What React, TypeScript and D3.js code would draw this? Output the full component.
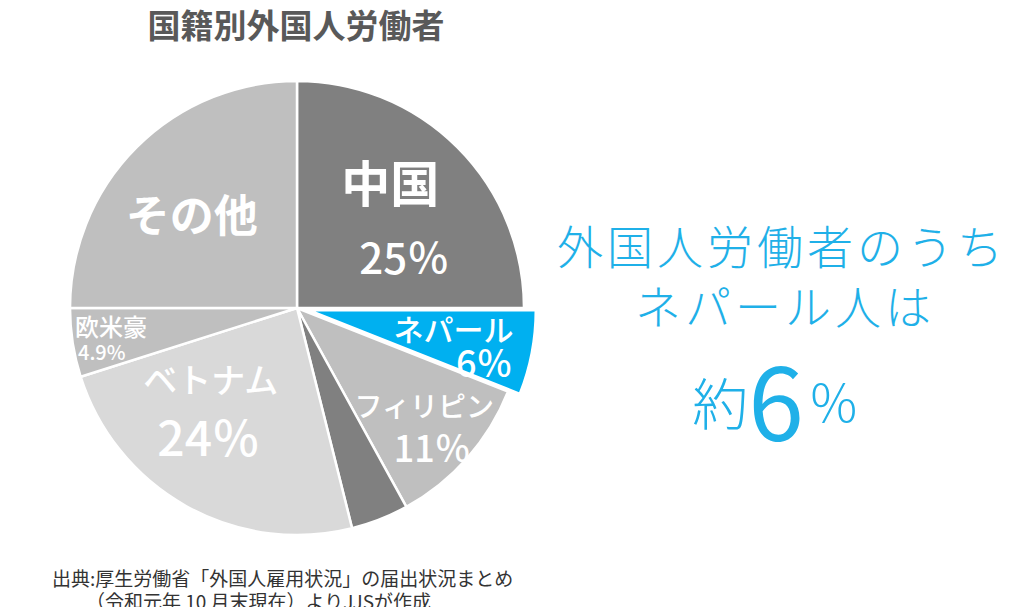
import React from "react";
import * as d3 from "d3";

const categories = ["中国", "ネパール", "フィリピン", "その他の国", "ベトナム", "欧米豪", "その他"];
const values = [25, 6, 11, 4.1, 24, 4.9, 25];
const labelNames = ["中国", "ネパール", "フィリピン", "", "ベトナム", "欧米豪", "その他"];
const labelValues = ["25％", "6％", "11％", "", "24％", "4.9%", ""];
const colors = ["#808080", "#00b0f0", "#bfbfbf", "#808080", "#d9d9d9", "#bfbfbf", "#bfbfbf"];
const highlight = "ネパール";

const W = 1024;
const H = 607;
const CX = 297;
const CY = 308;
const R = 227;
const EXPLODE = 12;
const FONT = "'Noto Sans CJK JP', 'Noto Sans', sans-serif";

// label layout offsets relative to arc centroid: [dx, dy, fontSize, fontWeight]
const labelLayout: Record<string, any> = {
  "中国": { anchor: "middle", name: [-3, -31, 49, 700], val: [11, 44, 42, 500] },
  "ネパール": { anchor: "end", name: [71, -8, 30, 500], val: [70, 25, 36, 500] },
  "フィリピン": { anchor: "middle", name: [25, 7, 28, 500], val: [33, 48, 36, 500] },
  "ベトナム": { anchor: "middle", name: [-20, -48, 34, 500], val: [-22, 8, 48, 500] },
  "欧米豪": { anchor: "start", name: [0, -3, 24, 500], val: [3, 23, 20, 500] },
  "その他": { anchor: "middle", name: [-9, 1, 44, 700], val: [0, 0, 0, 500] },
};

export default function App() {
  const pie = d3.pie<number>().sort(null).value((d) => d);
  const arcs = pie(values);
  const arc = d3.arc<any>().innerRadius(0).outerRadius(R);
  const labelArc = d3.arc<any>().innerRadius(R * 0.6).outerRadius(R * 0.6);

  return (
    <svg width={W} height={H} style={{ position: "absolute", left: 0, top: 0, background: "#fff" }} fontFamily={FONT}>
      <text x={296} y={24} textAnchor="middle" dominantBaseline="central" fontSize={33} fontWeight={700} fill="#595959">
        国籍別外国人労働者
      </text>
      <g transform={`translate(${CX},${CY})`}>
        {arcs.map((a, i) => {
          const mid = (a.startAngle + a.endAngle) / 2;
          const off = categories[i] === highlight ? EXPLODE : 0;
          const ox = Math.sin(mid) * off;
          const oy = -Math.cos(mid) * off;
          return (
            <path key={i} d={arc(a) as string} transform={`translate(${ox},${oy})`} fill={colors[i]} stroke="#fff" strokeWidth={2.5} strokeLinejoin="round" />
          );
        })}
        {arcs.map((a, i) => {
          const name = labelNames[i];
          if (!name) return null;
          const L = labelLayout[name];
          const mid = (a.startAngle + a.endAngle) / 2;
          const off = categories[i] === highlight ? EXPLODE : 0;
          let [cx, cy] = labelArc.centroid(a);
          cx += Math.sin(mid) * off;
          cy += -Math.cos(mid) * off;
          if (name === "欧米豪") {
            cx = -222;
          }
          return (
            <g key={"l" + i}>
              <text x={cx + L.name[0]} y={cy + L.name[1]} textAnchor={L.anchor} dominantBaseline="central" fontSize={L.name[2]} fontWeight={L.name[3]} fill="#fff">{name}</text>
              {labelValues[i] && (
                <text x={cx + L.val[0]} y={cy + L.val[1]} textAnchor={L.anchor} dominantBaseline="central" fontSize={L.val[2]} fontWeight={L.val[3]} fill="#fff">{labelValues[i]}</text>
              )}
            </g>
          );
        })}
      </g>
      <g fill="#1fb0e8" fontWeight={300}>
        <text x={782} y={244} textAnchor="middle" dominantBaseline="central" fontSize={46} letterSpacing={4}>外国人労働者のうち</text>
        <text x={785} y={304} textAnchor="middle" dominantBaseline="central" fontSize={46} letterSpacing={4}>ネパール人は</text>
        <text x={776} y={400} textAnchor="middle" dominantBaseline="central">
          <tspan fontSize={56}>約</tspan>
          <tspan fontSize={100} fontWeight={400} dy={-3}>6</tspan>
          <tspan fontSize={52} dy={3} dx={4}>％</tspan>
        </text>
      </g>
      <g fill="#333" fontSize={19}>
        <text x={52} y={577} dominantBaseline="central">出典:厚生労働省「外国人雇用状況」の届出状況まとめ</text>
        <text x={86} y={600} dominantBaseline="central">（令和元年 10 月末現在）よりJJSが作成</text>
      </g>
    </svg>
  );
}
